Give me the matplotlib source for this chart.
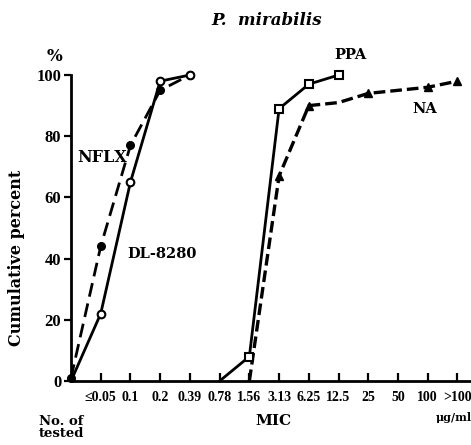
import numpy as np
import matplotlib.pyplot as plt

plt.rcParams['font.family'] = ['DejaVu Serif']
plt.rcParams['font.weight'] = 'bold'

# MIC categories (ug/ml), index 0 is the origin
mic_labels = ['≤0.05', '0.1', '0.2', '0.39', '0.78', '1.56', '3.13',
              '6.25', '12.5', '25', '50', '100', '>100']

# cumulative percent of strains inhibited
dl8280_x = [0, 1, 2, 3, 4]
dl8280_y = [0, 22, 65, 98, 100]

nflx_x = [0, 1, 2, 3, 4]
nflx_y = [1, 44, 77, 95, 100]

ppa_x = [5, 6, 7, 8, 9]
ppa_y = [0, 8, 89, 97, 100]

na_x = [6, 7, 8, 9, 10, 11, 12, 13]
na_y = [0, 67, 90, 91, 94, 95, 96, 98]
na_marked = [1, 2, 4, 6, 7]

fig = plt.figure(figsize=(4.71, 4.45), dpi=100)
ax = fig.add_axes([0.1507, 0.1438, 0.849, 0.6876])

ax.plot(dl8280_x, dl8280_y, color='black', lw=2, marker='o', ms=5.5,
        mfc='white', mec='black', mew=1.5, markevery=[1, 2, 3, 4],
        clip_on=False, zorder=4)
ax.plot(nflx_x, nflx_y, color='black', lw=2, ls=(0, (5, 2.5)), marker='o',
        ms=5.5, mfc='black', mec='black', clip_on=False, zorder=3)
ax.plot(ppa_x, ppa_y, color='black', lw=2, marker='s', ms=5.5,
        mfc='white', mec='black', mew=1.5, markevery=[1, 2, 3, 4],
        clip_on=False, zorder=4)
ax.plot(na_x, na_y, color='black', lw=2.4, ls=(0, (3.5, 1.5)), marker='^',
        ms=5.5, mfc='black', mec='black', markevery=na_marked,
        clip_on=False, zorder=3)

ax.set_xlim(0, 13.45)
ax.set_ylim(0, 100)

for side in ['top', 'right']:
    ax.spines[side].set_visible(False)
ax.spines['left'].set_linewidth(2)
ax.spines['bottom'].set_linewidth(2)

ax.set_xticks(np.arange(1, len(mic_labels) + 1))
ax.set_xticklabels(mic_labels, fontsize=10, family='Liberation Serif',
                   weight='bold')
ax.tick_params(axis='x', direction='in', length=6, width=1.6, pad=7)
ax.set_yticks([0, 20, 40, 60, 80, 100])
ax.set_yticklabels(['0', '20', '40', '60', '80', '100'], fontsize=12,
                   family='Liberation Serif', weight='bold')
ax.tick_params(axis='y', direction='out', length=5, width=1.6, pad=2)

fig.text(0.567, 0.955, 'P.  mirabilis', ha='center', va='center',
         fontsize=12, style='italic', weight='bold')
fig.text(0.115, 0.872, '%', ha='center', va='center', fontsize=12)
fig.text(0.036, 0.42, 'Cumulative percent', rotation=90, ha='center',
         va='center', fontsize=11.5)

ax.text(0.2, 73, 'NFLX', fontsize=11.5, ha='left', va='center')
ax.text(1.9, 41.5, 'DL-8280', fontsize=10.5, ha='left', va='center')
ax.text(9.4, 106.5, 'PPA', fontsize=10.5, ha='center', va='center',
        clip_on=False)
ax.text(11.9, 89, 'NA', fontsize=10.5, ha='center', va='center')

fig.text(0.58, 0.055, 'MIC', ha='center', va='center', fontsize=11)
fig.text(0.925, 0.062, 'μg/ml', ha='left', va='center', fontsize=8)
fig.text(0.083, 0.04, 'No. of\ntested', ha='left', va='center',
         fontsize=9.5, linespacing=0.9)

fig.savefig('out.png', dpi=100)
